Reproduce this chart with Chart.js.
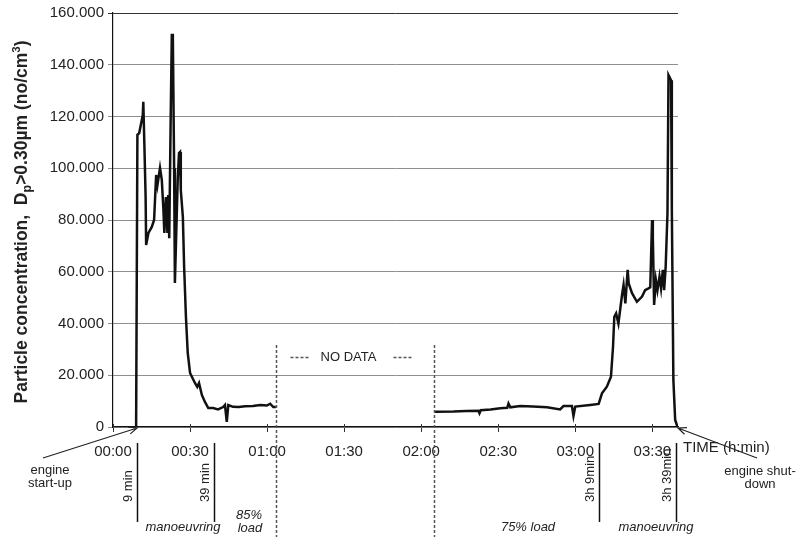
<!DOCTYPE html>
<html>
<head>
<meta charset="utf-8">
<script src="https://cdn.jsdelivr.net/npm/chart.js@4"></script>
<style>
  html, body { margin: 0; padding: 0; background: #fff; }
  #wrap { width: 797px; height: 537px; }
</style>
</head>
<body>
<div id="wrap"><canvas id="particleChart" width="797" height="537"></canvas></div>
<script>
// Time in minutes since 00:00, concentration in particles/cm3
const outboundMinutes = [9, 9.5, 10.2, 11.6, 11.8, 12.2, 12.7, 12.9, 13.8, 15.1, 16.0, 16.8, 17.3, 18.3, 19.0, 19.6, 20.0, 20.6, 21.2, 21.5, 21.9, 22.5, 22.9, 23.3, 23.8, 24.1, 24.8, 25.2, 25.7, 26.1, 26.4, 27.2, 27.7, 28.4, 29.1, 30.0, 31.9, 32.8, 33.5, 34.6, 35.8, 37.1, 39.0, 40.9, 42.9, 43.6, 44.3, 44.9, 46.7, 49.0, 51.4, 54.5, 57.3, 59.9, 61.2, 62.4, 63.4];
const outboundValues = [0, 112900, 113600, 120600, 125700, 109800, 88900, 70300, 75000, 77300, 80000, 97400, 93500, 100100, 95500, 84600, 75000, 88900, 75000, 89700, 73000, 122500, 151500, 151500, 100000, 55700, 81200, 95500, 105900, 106300, 91600, 81200, 61800, 42500, 28600, 20900, 17000, 15500, 17000, 12400, 9700, 7300, 7300, 6800, 7700, 8500, 2000, 8500, 7800, 7700, 8000, 8100, 8500, 8300, 9000, 7700, 7700];

const returnMinutes = [125.4, 132.6, 137.5, 142.3, 142.7, 143.2, 147.0, 150.8, 153.5, 154.0, 154.7, 158.6, 163.5, 169.0, 174.1, 175.4, 178.7, 179.3, 180.0, 185.8, 189.1, 190.4, 192.3, 193.9, 194.7, 195.2, 195.9, 196.8, 198.2, 198.8, 199.5, 200.4, 200.8, 202.1, 204.0, 206.0, 207.2, 208.5, 209.2, 209.9, 210.2, 210.7, 211.4, 212.0, 212.8, 213.4, 214.1, 214.6, 215.2, 215.9, 216.3, 217.3, 217.6, 218.2, 218.9, 219.8];
const returnValues = [5900, 6000, 6200, 6300, 5300, 6500, 6800, 7200, 7400, 9100, 7600, 8100, 7900, 7600, 6800, 8100, 8100, 4300, 7900, 8500, 8900, 13000, 15600, 19400, 31000, 42600, 43900, 40000, 51000, 54900, 47800, 60700, 55500, 51700, 48400, 50400, 52900, 53600, 54000, 80000, 73500, 47200, 56800, 52900, 58100, 53600, 60700, 52900, 62000, 82600, 136000, 134000, 84000, 18200, 2700, 0];

const xTickMinutes = [0, 30, 60, 90, 120, 150, 180, 210];
const yTickValues = [0, 20000, 40000, 60000, 80000, 100000, 120000, 140000, 160000];

// Voyage events (minutes) for the annotations under the axis
const eventMinutes = [9, 39, 189, 219];
const eventLabels = ['9 min', '39 min', '3h 9min', '3h 39min'];
const gapMinutes = [63.5, 125];

const FONT = '"Liberation Sans", Arial, sans-serif';
const TEXT = '#222';

function buildPoints() {
    const pts = outboundMinutes.map((m, i) => ({ x: m, y: outboundValues[i] }));
    pts.push({ x: (gapMinutes[0] + gapMinutes[1]) / 2, y: null });
    returnMinutes.forEach((m, i) => pts.push({ x: m, y: returnValues[i] }));
    return pts;
}

function formatThousands(v) {
    return v === 0 ? '0' : v.toLocaleString('en-US').replace(/,/g, '.');
}

function formatClock(m) {
    const h = Math.floor(m / 60);
    const mm = m % 60;
    return String(h).padStart(2, '0') + ':' + String(mm).padStart(2, '0');
}

function drawArrow(ctx, x1, y1, x2, y2) {
    ctx.beginPath();
    ctx.moveTo(x1, y1);
    ctx.lineTo(x2, y2);
    const a = Math.atan2(y2 - y1, x2 - x1);
    const len = 9;
    ctx.moveTo(x2 - len * Math.cos(a - 0.4), y2 - len * Math.sin(a - 0.4));
    ctx.lineTo(x2, y2);
    ctx.lineTo(x2 - len * Math.cos(a + 0.4), y2 - len * Math.sin(a + 0.4));
    ctx.stroke();
}

// Rotated y title with subscript / superscript parts
const yTitlePlugin = {
    id: 'yTitle',
    afterDraw(chart) {
        const ctx = chart.ctx;
        const parts = [
            { t: 'Particle concentration,  D', size: 17.5, dy: 0 },
            { t: 'p', size: 12.5, dy: 4 },
            { t: '>0.30\u00b5m (no/cm', size: 17.5, dy: 0 },
            { t: '3', size: 11.5, dy: -7 },
            { t: ')', size: 17.5, dy: 0 }
        ];
        ctx.save();
        let total = 0;
        parts.forEach(p => {
            ctx.font = 'bold ' + p.size + 'px ' + FONT;
            p.w = ctx.measureText(p.t).width;
            total += p.w;
        });
        ctx.translate(27, 222);
        ctx.rotate(-Math.PI / 2);
        ctx.fillStyle = TEXT;
        ctx.textBaseline = 'alphabetic';
        ctx.textAlign = 'left';
        let x = -total / 2;
        parts.forEach(p => {
            ctx.font = 'bold ' + p.size + 'px ' + FONT;
            ctx.fillText(p.t, x, p.dy);
            x += p.w;
        });
        ctx.restore();
    }
};

const annotationPlugin = {
    id: 'voyageNotes',
    afterDraw(chart) {
        const ctx = chart.ctx;
        const xs = chart.scales.x;
        const area = chart.chartArea;
        ctx.save();

        // x-axis ticks poke slightly above the axis too
        ctx.strokeStyle = '#333';
        ctx.lineWidth = 1;
        xTickMinutes.forEach(m => {
            const x = Math.round(xs.getPixelForValue(m)) + 0.5;
            ctx.beginPath();
            ctx.moveTo(x, area.bottom - 3);
            ctx.lineTo(x, area.bottom);
            ctx.stroke();
        });

        // gap edges: dashed verticals
        ctx.strokeStyle = '#555';
        ctx.lineWidth = 1.5;
        ctx.setLineDash([3, 2]);
        const gx = gapMinutes.map(m => Math.round(xs.getPixelForValue(m)) + 0.5);
        gx.forEach(x => {
            ctx.beginPath();
            ctx.moveTo(x, 345);
            ctx.lineTo(x, 537);
            ctx.stroke();
        });
        // "--- NO DATA ---"
        ctx.beginPath();
        ctx.moveTo(gx[0] + 14, 357.5); ctx.lineTo(gx[0] + 33, 357.5);
        ctx.moveTo(gx[0] + 117, 357.5); ctx.lineTo(gx[0] + 137, 357.5);
        ctx.stroke();
        ctx.setLineDash([]);
        ctx.fillStyle = TEXT;
        ctx.font = '13px ' + FONT;
        ctx.textAlign = 'center';
        ctx.textBaseline = 'middle';
        ctx.fillText('NO DATA', gx[0] + 72, 357);

        // event markers under the axis
        ctx.strokeStyle = '#111';
        ctx.lineWidth = 1.5;
        eventMinutes.forEach((m, i) => {
            const x = Math.round(xs.getPixelForValue(m)) + 1.5;
            ctx.beginPath();
            ctx.moveTo(x, 443);
            ctx.lineTo(x, 522);
            ctx.stroke();
            ctx.save();
            ctx.translate(x - 3, 502);
            ctx.rotate(-Math.PI / 2);
            ctx.font = '13px ' + FONT;
            ctx.textAlign = 'left';
            ctx.textBaseline = 'bottom';
            ctx.fillText(eventLabels[i], 0, 0);
            ctx.restore();
        });

        // phase labels
        ctx.font = 'italic 13px ' + FONT;
        ctx.textAlign = 'center';
        ctx.textBaseline = 'middle';
        ctx.fillText('manoeuvring', 183, 527);
        ctx.fillText('85%', 249, 515);
        ctx.fillText('load', 250, 528);
        ctx.fillText('75% load', 528, 527);
        ctx.fillText('manoeuvring', 656, 527);

        // start / shut-down notes
        ctx.font = '13px ' + FONT;
        ctx.fillText('engine', 50, 470);
        ctx.fillText('start-up', 50, 483);
        ctx.fillText('engine shut-', 760, 471);
        ctx.fillText('down', 760, 484);

        ctx.font = '15px ' + FONT;
        ctx.textAlign = 'left';
        ctx.fillText('TIME (h:min)', area.right + 5, 448);

        ctx.strokeStyle = '#222';
        ctx.lineWidth = 1.2;
        drawArrow(ctx, 43, 458, xs.getPixelForValue(eventMinutes[0]) + 1, 428);
        drawArrow(ctx, 757, 458, area.right, 428);
        ctx.restore();
    }
};

new Chart(document.getElementById('particleChart').getContext('2d'), {
    type: 'line',
    data: {
        datasets: [{
            data: buildPoints(),
            borderColor: '#111',
            borderWidth: 2.5,
            pointRadius: 0,
            tension: 0,
            spanGaps: false,
            fill: false
        }]
    },
    options: {
        responsive: false,
        animation: false,
        devicePixelRatio: 1,
        layout: { padding: { top: 13, right: 119, left: 0, bottom: 0 } },
        plugins: { legend: { display: false }, tooltip: { enabled: false } },
        scales: {
            x: {
                type: 'linear',
                min: 0,
                max: 220,
                afterBuildTicks(scale) { scale.ticks = xTickMinutes.map(v => ({ value: v })); },
                afterFit(scale) { scale.height = 110; },
                grid: { drawOnChartArea: false, drawTicks: true, tickLength: 5, color: '#333' },
                border: { color: '#111', width: 1.2 },
                ticks: {
                    color: TEXT,
                    font: { family: FONT, size: 15 },
                    padding: 11,
                    maxRotation: 0,
                    autoSkip: false,
                    callback: v => formatClock(v)
                }
            },
            y: {
                min: 0,
                max: 160000,
                afterBuildTicks(scale) { scale.ticks = yTickValues.map(v => ({ value: v })); },
                afterFit(scale) { scale.width = 113; },
                grid: {
                    color: ctx => (ctx.tick && ctx.tick.value === 160000 ? '#333' : '#8f8f8f'),
                    lineWidth: 1,
                    drawTicks: true,
                    tickLength: 5
                },
                border: { color: '#111', width: 1.2 },
                ticks: {
                    color: TEXT,
                    font: { family: FONT, size: 15 },
                    padding: 4,
                    callback: v => formatThousands(v)
                }
            }
        }
    },
    plugins: [yTitlePlugin, annotationPlugin]
});
</script>
</body>
</html>
